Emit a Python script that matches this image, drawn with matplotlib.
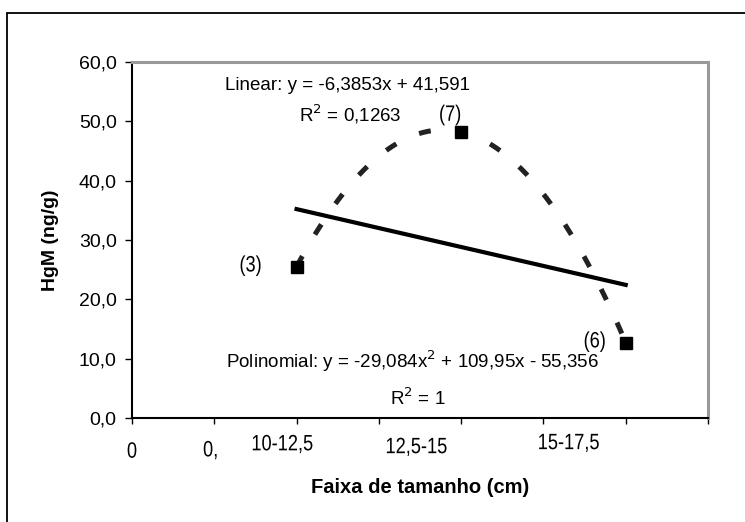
import numpy as np
import matplotlib
matplotlib.use('Agg')
import matplotlib.pyplot as plt
from matplotlib.patches import Rectangle, PathPatch
from matplotlib.textpath import TextPath
from matplotlib.font_manager import FontProperties
from matplotlib.transforms import Affine2D, blended_transform_factory

plt.rcParams['font.family'] = ['Liberation Sans', 'DejaVu Sans']

# data
categories = ['10-12,5', '12,5-15', '15-17,5']
hgm = [25.5, 48.2, 12.7]
n_labels = ['(3)', '(7)', '(6)']
lin_coef = [-6.3853, 41.591]
poly_coef = [-29.084, 109.95, -55.356]
extra_labels = ['0', '0,']
yticks = [0, 10, 20, 30, 40, 50, 60]

fig = plt.figure(figsize=(7.45, 5.22), dpi=100)
ax = fig.add_axes([132 / 745, 1 - 418 / 522, 576 / 745, 356 / 522])


def narrow_text(xy_disp, s, size_pt=16, sx=0.82):
    # Arial Narrow look-alike: horizontally squeezed glyph outlines
    px = size_pt * fig.dpi / 72
    tp = TextPath((0, 0), s, size=px, prop=FontProperties(family='Liberation Sans'))
    bb = tp.get_extents()
    tr = Affine2D().translate(-(bb.x0 + bb.width / 2), -(bb.y0 + bb.height / 2)).scale(sx, 1)
    tr = tr.translate(*xy_disp)
    fig.add_artist(PathPatch(tp, transform=tr, facecolor='black', edgecolor='none'))


# outer frame of the chart area (cut by the image edge right/bottom)
fig.patches.append(Rectangle((7 / 745, -0.1), 1.2, 1.1 - 13 / 522, transform=fig.transFigure,
                             fill=False, edgecolor='black', linewidth=1.3, clip_on=False))

idx = np.arange(1, len(hgm) + 1)
xpos = 2 * idx  # categories sit on every second tick

# trend lines
xs = np.linspace(1, 3, 200)
ax.plot(2 * xs, np.polyval(poly_coef, xs), color='#222222', linewidth=3.6,
        dashes=(2.4, 5.0), solid_capstyle='butt', dash_capstyle='butt')
xl = np.array([1, 3])
ax.plot(2 * xl, np.polyval(lin_coef, xl), color='black', linewidth=3.0)

ax.plot(xpos, hgm, linestyle='none', marker='s', markersize=8, color='black')

# equations
ax.text(2.62, 56.0, 'Linear: y = -6,3853x + 41,591', ha='center', va='center', fontsize=13.5)
ax.text(2.65, 51.2, 'R$^2$ = 0,1263', ha='center', va='center', fontsize=13.5)
ax.text(3.41, 9.5, 'Polinomial: y = -29,084x$^2$ + 109,95x - 55,356', ha='center', va='center', fontsize=13.5)
ax.text(3.47, 3.3, 'R$^2$ = 1', ha='center', va='center', fontsize=13.5)

ax.set_xlim(0, 7)
ax.set_ylim(0, 60)
ax.set_xticks(range(8))
ax.set_xticklabels([])
ax.set_yticks(yticks)
ax.set_yticklabels(['{:.1f}'.format(v).replace('.', ',') for v in yticks], fontsize=14)
ax.tick_params(axis='y', length=5, width=1, pad=6)
ax.tick_params(axis='x', length=4, width=1)

# n labels next to the points
offsets = [(-46, 1), (-11, 17), (-31, 1)]
for x, y, lab, (dx, dy) in zip(xpos, hgm, n_labels, offsets):
    px, py = ax.transData.transform((x, y))
    narrow_text((px + dx, py + dy), lab)

# category labels below the axis
trans = blended_transform_factory(ax.transData, ax.transAxes)
lab_x = [0, 0.95, 1.83, 3.46, 5.31]
lab_y = [-0.09, -0.09, -0.073, -0.081, -0.07]
for x, y, lab in zip(lab_x, lab_y, extra_labels + categories):
    narrow_text(trans.transform((x, y)), lab)

ax.set_ylabel('HgM (ng/g)', fontsize=14, fontweight='bold')
ax.yaxis.set_label_coords(-0.127, 0.5)
ax.set_xlabel('Faixa de tamanho (cm)', fontsize=14.5, fontweight='bold')
ax.xaxis.set_label_coords(0.5, -0.169)

for s in ['left', 'bottom']:
    ax.spines[s].set_color('black')
    ax.spines[s].set_linewidth(1.5)
for s in ['top', 'right']:
    ax.spines[s].set_color('#999999')
    ax.spines[s].set_linewidth(2.2)

fig.savefig('out.png', dpi=100)
